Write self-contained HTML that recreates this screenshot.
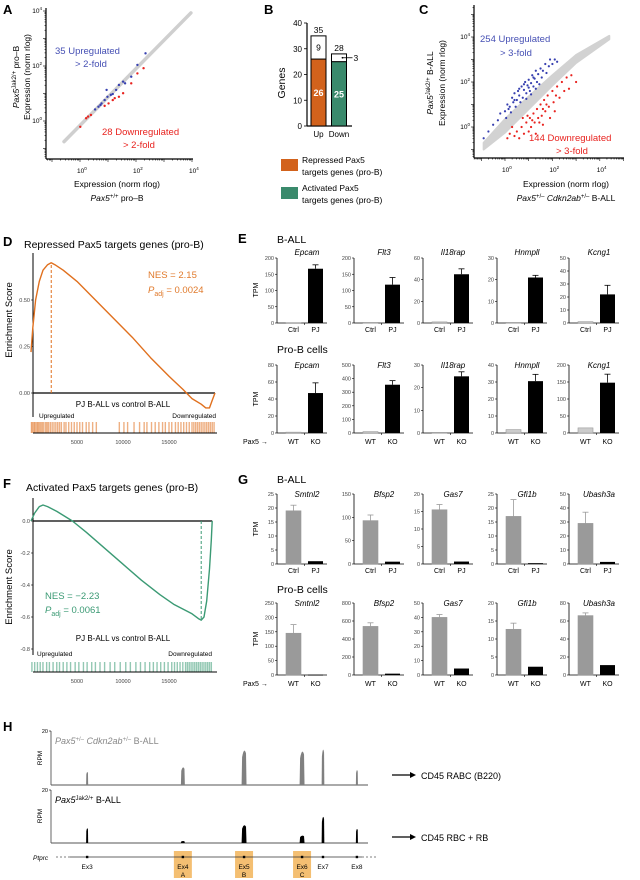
<!DOCTYPE html>
<html><head><meta charset="utf-8">
<style>
body{margin:0;background:#fff}
svg{display:block;font-family:"Liberation Sans",Arial,sans-serif}
.pl{font-weight:bold;font-size:13px}
.tk{font-size:5.5px;fill:#444}
</style></head>
<body>
<svg id="fig" width="640" height="880" viewBox="0 0 640 880" xmlns="http://www.w3.org/2000/svg">
<text class="pl" x="3" y="14">A</text>
<text class="pl" x="264" y="14">B</text>
<text class="pl" x="419" y="14">C</text>
<text class="pl" x="3" y="246">D</text>
<text class="pl" x="238" y="243">E</text>
<text class="pl" x="3" y="488">F</text>
<text class="pl" x="238" y="484">G</text>
<text class="pl" x="3" y="731">H</text>

<g font-size="8.5">
<text x="117" y="187" text-anchor="middle">Expression (norm rlog)</text>
<text x="117" y="201" text-anchor="middle"><tspan font-style="italic">Pax5</tspan><tspan dy="-3" font-size="6">+/+</tspan><tspan dy="3"> pro–B</tspan></text>
<text transform="translate(19,77) rotate(-90)" text-anchor="middle"><tspan font-style="italic">Pax5</tspan><tspan dy="-3" font-size="6">Jak2/+</tspan><tspan dy="3"> pro–B</tspan></text>
<text transform="translate(30,77) rotate(-90)" text-anchor="middle">Expression (norm rlog)</text>
<text x="55" y="54" fill="#4650b4" font-size="9.5">35 Upregulated</text>
<text x="75" y="67" fill="#4650b4" font-size="9.5">&gt; 2-fold</text>
<text x="102" y="135" fill="#e8231f" font-size="9.5">28 Downregulated</text>
<text x="123" y="148" fill="#e8231f" font-size="9.5">&gt; 2-fold</text>
</g>

<g font-size="8.5">
<text transform="translate(285,83) rotate(-90)" text-anchor="middle" font-size="10.5">Genes</text>
<rect x="281" y="159" width="17" height="12" fill="#d2621c"/>
<text x="302" y="163">Repressed Pax5</text>
<text x="302" y="175">targets genes (pro-B)</text>
<rect x="281" y="187" width="17" height="12" fill="#3a8a6c"/>
<text x="302" y="191">Activated Pax5</text>
<text x="302" y="203">targets genes (pro-B)</text>
</g>

<g font-size="8.5">
<text x="566" y="187" text-anchor="middle">Expression (norm rlog)</text>
<text x="566" y="201" text-anchor="middle"><tspan font-style="italic">Pax5</tspan><tspan dy="-3" font-size="6">+/–</tspan><tspan dy="3" font-style="italic"> Cdkn2ab</tspan><tspan dy="-3" font-size="6">+/–</tspan><tspan dy="3"> B-ALL</tspan></text>
<text transform="translate(433,83) rotate(-90)" text-anchor="middle"><tspan font-style="italic">Pax5</tspan><tspan dy="-3" font-size="6">Jak2/+</tspan><tspan dy="3">  B-ALL</tspan></text>
<text transform="translate(445,83) rotate(-90)" text-anchor="middle">Expression (norm rlog)</text>
<text x="480" y="42" fill="#4650b4" font-size="9.5">254 Upregulated</text>
<text x="500" y="56" fill="#4650b4" font-size="9.5">&gt; 3-fold</text>
<text x="529" y="141" fill="#e8231f" font-size="9.5">144 Downregulated</text>
<text x="556" y="154" fill="#e8231f" font-size="9.5">&gt; 3-fold</text>
</g>

<g>
<text x="24" y="248" font-size="10.5">Repressed Pax5 targets genes (pro-B)</text>
<text transform="translate(12,320) rotate(-90)" text-anchor="middle" font-size="9.5">Enrichment Score</text>
<text x="148" y="278" font-size="9.5" fill="#e07a2c">NES = 2.15</text>
<text x="148" y="293" font-size="9.5" fill="#e07a2c"><tspan font-style="italic">P</tspan><tspan dy="3" font-size="7">adj</tspan><tspan dy="-3"> = 0.0024</tspan></text>
<text x="123" y="407" text-anchor="middle" font-size="8">PJ  B-ALL  vs  control B-ALL</text>
<text x="39" y="418" font-size="6.5">Upregulated</text>
<text x="216" y="418" font-size="6.5" text-anchor="end">Downregulated</text>
</g>

<g>
<text x="26" y="491" font-size="10.5">Activated Pax5 targets genes (pro-B)</text>
<text transform="translate(12,587) rotate(-90)" text-anchor="middle" font-size="9.5">Enrichment Score</text>
<text x="45" y="599" font-size="9.5" fill="#3b9a74">NES = −2.23</text>
<text x="45" y="613" font-size="9.5" fill="#3b9a74"><tspan font-style="italic">P</tspan><tspan dy="3" font-size="7">adj</tspan><tspan dy="-3"> = 0.0061</tspan></text>
<text x="123" y="641" text-anchor="middle" font-size="8">PJ  B-ALL  vs  control B-ALL</text>
<text x="37" y="656" font-size="6.5">Upregulated</text>
<text x="212" y="656" font-size="6.5" text-anchor="end">Downregulated</text>
</g>

<g font-size="10.5">
<text x="277" y="243">B-ALL</text>
<text x="277" y="353">Pro-B cells</text>
<text x="277" y="483">B-ALL</text>
<text x="277" y="593">Pro-B cells</text>
</g>
<g font-size="7">
<text transform="translate(258,290) rotate(-90)" text-anchor="middle">TPM</text>
<text transform="translate(258,399) rotate(-90)" text-anchor="middle">TPM</text>
<text transform="translate(258,529) rotate(-90)" text-anchor="middle">TPM</text>
<text transform="translate(258,639) rotate(-90)" text-anchor="middle">TPM</text>
<text x="243" y="444">Pax5 →</text>
<text x="243" y="686">Pax5 →</text>
</g>

<g>
<text x="55" y="744" font-size="9" fill="#888"><tspan font-style="italic">Pax5</tspan><tspan dy="-3" font-size="6">+/–</tspan><tspan dy="3" font-style="italic"> Cdkn2ab</tspan><tspan dy="-3" font-size="6">+/–</tspan><tspan dy="3"> B-ALL</tspan></text>
<text x="55" y="803" font-size="9"><tspan font-style="italic">Pax5</tspan><tspan dy="-3" font-size="6">Jak2/+</tspan><tspan dy="3"> B-ALL</tspan></text>
<text transform="translate(42,758) rotate(-90)" text-anchor="middle" font-size="6.5">RPM</text>
<text transform="translate(42,816) rotate(-90)" text-anchor="middle" font-size="6.5">RPM</text>
<text x="48" y="733" font-size="5.5" text-anchor="end">20</text>
<text x="48" y="792" font-size="5.5" text-anchor="end">20</text>
<text x="33" y="860" font-size="6.5" font-style="italic">Ptprc</text>
<line x1="392" y1="775" x2="410" y2="775" stroke="#000" stroke-width="1.3"/>
<polygon points="410,772 416,775 410,778" fill="#000"/>
<text x="421" y="779" font-size="9">CD45 RABC (B220)</text>
<line x1="392" y1="837" x2="410" y2="837" stroke="#000" stroke-width="1.3"/>
<polygon points="410,834 416,837 410,840" fill="#000"/>
<text x="421" y="841" font-size="9">CD45 RBC + RB</text>
</g>
<g id="dyn"></g>
</svg>
<script>
const NS="http://www.w3.org/2000/svg";
const root=document.getElementById('dyn');
function mk(tag,parent,o){const e=document.createElementNS(NS,tag);for(const k in o)e.setAttribute(k,o[k]);parent.appendChild(e);return e;}

/* ---------- DATA: Panel A (log10 values) ---------- */
const aBlueX=[0.54,0.73,0.88,0.98,1.10,1.39,1.54,1.83,2.05,2.34,0.95,0.66,0.77,1.17,1.29,1.61];
const aBlueY=[0.42,0.58,0.76,0.88,0.95,1.31,1.43,1.61,2.04,2.46,1.13,0.52,0.64,0.98,1.13,1.37];
const aRedX=[0.01,0.22,0.29,0.39,0.88,1.02,1.24,1.39,1.54,1.83,2.05,2.27,1.17];
const aRedY=[-0.21,0.10,0.16,0.22,0.55,0.64,0.83,0.88,1.01,1.37,1.73,1.92,0.76];
const aGrayStart=[-0.57,-0.75], aGrayEnd=[3.96,3.93];
const aTickExp=[0,2,4];
/* ---------- DATA: Panel B ---------- */
const bCats=['Up','Down'];
const bTargets=[26,25];
const bOthers=[9,3];
const bTicks=[0,10,20,30,40];
/* ---------- DATA: Panel C ---------- */
const cBlue=[[-0.9,-0.5],[-0.7,-0.2],[-0.5,0.1],[-0.3,0.3],[-0.2,0.6],[0,0.7],[0.1,1.0],[0.2,0.9],[0.3,1.3],[0.35,1.1],[0.4,1.5],[0.5,1.2],[0.55,1.6],[0.6,1.4],[0.7,1.8],[0.75,1.3],[0.8,1.65],[0.85,2.0],[0.9,1.5],[0.95,1.85],[1.0,2.1],[1.05,1.6],[1.1,1.95],[1.15,2.3],[1.2,1.8],[1.25,2.15],[1.3,2.5],[1.35,2.0],[1.4,2.35],[1.5,2.6],[1.55,2.2],[1.6,2.5],[1.7,2.8],[1.75,2.4],[1.85,2.7],[1.9,3.0],[2.0,2.8],[2.1,3.0],[2.2,2.9],[0.45,0.9],[0.65,1.1],[0.9,1.25],[1.1,1.45],[1.3,1.7],[1.45,1.9],[0.25,0.65],[0.05,0.4],[0.6,1.7],[0.8,1.9],[1.0,1.75],[1.2,2.2],[0.4,1.2],[0.15,0.8]];
const cRed=[[0.1,-0.5],[0.2,-0.3],[0.4,-0.4],[0.5,-0.2],[0.6,-0.5],[0.7,0.0],[0.8,-0.3],[0.9,0.2],[1.0,-0.2],[1.05,0.4],[1.1,0.0],[1.2,0.6],[1.25,0.2],[1.3,-0.3],[1.35,0.8],[1.4,0.4],[1.5,1.0],[1.55,0.5],[1.6,0.1],[1.65,1.2],[1.7,0.7],[1.8,1.4],[1.85,0.9],[1.9,0.4],[2.0,1.6],[2.05,1.1],[2.1,0.7],[2.2,1.8],[2.3,1.3],[2.4,2.0],[2.5,1.6],[2.6,2.2],[2.7,1.7],[2.8,2.3],[3.0,2.0],[1.15,0.3],[0.95,0.5],[1.45,0.2],[1.75,1.0],[2.15,1.4],[0.3,0.0],[0.75,0.4],[1.6,0.8]];
const cGrayUpper=[[-0.9,-0.7],[0,0.35],[1,1.35],[2,2.3],[3,3.2],[4.4,4.05]];
const cGrayLower=[[4.4,3.9],[3,2.85],[2,1.85],[1,0.8],[0,-0.25],[-0.9,-1.0]];
const cTickExp=[0,2,4];
/* ---------- DATA: Panel D/F enrichment ---------- */
const dRank=[0,200,500,900,1300,1800,2200,2600,3500,5000,7000,9000,11000,13000,15000,16500,17500,18500,19000,19400,19700,20000];
const dES=[0.22,0.35,0.5,0.6,0.66,0.69,0.70,0.69,0.66,0.60,0.50,0.40,0.30,0.19,0.09,0.02,-0.03,-0.06,-0.08,-0.08,-0.04,0];
const dLeadRank=2200;
const dRug=[50,150,300,400,550,700,800,950,1100,1250,1400,1600,1750,1900,2100,2300,2500,2700,2900,3100,3300,3600,3800,4100,4400,4700,5000,5300,5600,6000,6300,6700,7100,9600,10100,10500,11200,11800,12300,12600,13100,13500,13900,14300,14600,15000,15300,15700,16000,16300,16600,16900,17200,17500,17700,17900,18100,18300,18500,18700,18900,19100,19300,19500,19700,19900];
const dTicks=[0,0.25,0.5];
const fRank=[0,400,900,1300,1800,2800,4500,6000,8000,10000,12000,14000,15500,16500,17500,18200,18500,18800,19100,19400,19600,19700];
const fES=[0,0.05,0.09,0.10,0.09,0.06,0.0,-0.07,-0.17,-0.27,-0.37,-0.46,-0.52,-0.55,-0.58,-0.61,-0.62,-0.60,-0.5,-0.3,-0.12,0];
const fLeadRank=18500;
const fRug=[100,400,700,1000,1300,1700,2000,2400,2800,3100,3500,3900,4300,4800,5200,5700,6100,6600,7000,7500,8000,8600,9100,9700,10300,10800,11400,11900,12400,12900,13300,13700,14100,14500,14900,15300,15600,15900,16200,16500,16800,17000,17200,17400,17600,17800,18000,18200,18400,18600,18800,19000,19200,19400,19600];
const fTicks=[0,-0.2,-0.4,-0.6,-0.8];
const rankTicks=[5000,10000,15000];
/* ---------- DATA: Panels E/G mini bar charts ---------- */
const eBallGenes=['Epcam','Flt3','Il18rap','Hnmpll','Kcng1'];
const eBallMax=[200,200,60,30,50], eBallStep=[50,50,20,10,10];
const eBallCtrl=[1,2,1,0.3,1], eBallCtrlErr=[0,0,0,0,0];
const eBallPJ=[167,118,45,21,22], eBallPJErr=[12,22,5,1,7];
const eProGenes=['Epcam','Flt3','Il18rap','Hnmpll','Kcng1'];
const eProMax=[80,500,30,40,200], eProStep=[20,100,10,10,50];
const eProWT=[1,10,0.3,2,15], eProWTErr=[0,0,0,0,0];
const eProKO=[47,355,25,30.5,148], eProKOErr=[12,30,2,4,25];
const gBallGenes=['Smtnl2','Bfsp2','Gas7','Gfi1b','Ubash3a'];
const gBallMax=[25,150,20,25,50], gBallStep=[5,50,5,5,10];
const gBallCtrl=[19,93,15.5,17,29], gBallCtrlErr=[2,12,1.5,6,8];
const gBallPJ=[1,5,0.7,0.3,1.5], gBallPJErr=[0,0,0,0,0];
const gProGenes=['Smtnl2','Bfsp2','Gas7','Gfi1b','Ubash3a'];
const gProMax=[250,800,50,20,80], gProStep=[50,200,10,5,20];
const gProWT=[145,540,40,12.7,66], gProWTErr=[30,40,2,1.7,3];
const gProKO=[1,15,4.5,2.3,11], gProKOErr=[0,0,0,0,0];
/* ---------- DATA: Panel H ---------- */
const hExonNames=['Ex3','Ex4','Ex5','Ex6','Ex7','Ex8'];
const hExonSub=['','A','B','C','',''];
const hExonPos=[114,416,609,792,858,965];
const hPeakW=[4,10,13,13,6,4];
const hTrack1=[5.2,7.0,13.7,13.3,14.1,5.9];
const hTrack2=[6.0,0.8,7.2,3.0,10.6,5.7];

function logAxes(g,x0,y0,x1,y1,xs,ys,expsX,expsY,minX,maxX,minY,maxY){
  mk('line',g,{x1:x0,y1:y0,x2:x0,y2:y1,stroke:'#000','stroke-width':1.2});
  mk('line',g,{x1:x0,y1:y0,x2:x1,y2:y0,stroke:'#000','stroke-width':1.2});
  for(let d=minX;d<=maxX;d++){for(let m=1;m<10;m++){const v=d+Math.log10(m);const px=xs(v);if(px<x0||px>x1)continue;mk('line',g,{x1:px,y1:y0,x2:px,y2:y0+(m==1?3:1.5),stroke:'#000','stroke-width':0.6});}}
  for(let d=minY;d<=maxY;d++){for(let m=1;m<10;m++){const v=d+Math.log10(m);const py=ys(v);if(py>y0||py<y1)continue;mk('line',g,{x1:x0,y1:py,x2:x0-(m==1?3:1.5),y2:py,stroke:'#000','stroke-width':0.6});}}
  expsX.forEach(e=>{const t=mk('text',g,{x:xs(e)-3,y:y0+14,'font-size':6.5});t.textContent='10';const s=mk('tspan',t,{dy:-3,'font-size':4.5});s.textContent=e;});
  expsY.forEach(e=>{const t=mk('text',g,{x:x0-4,y:ys(e)+2,'font-size':6.5,'text-anchor':'end'});t.textContent='10';const s=mk('tspan',t,{dy:-3,'font-size':4.5});s.textContent=e;});
}

(function(){
  const g=mk('g',root,{});
  
  
  const xs=v=>80+v*28, ys=v=>121-v*27.5;
  const gl=mk('line',g,{x1:xs(aGrayStart[0]),y1:ys(aGrayStart[1]),x2:xs(aGrayEnd[0]),y2:ys(aGrayEnd[1]),stroke:'#cfcfcf','stroke-width':3.5,'stroke-linecap':'round'});
  
  
  aBlueX.forEach((x,i)=>{const c=mk('circle',g,{cx:xs(x),cy:ys(aBlueY[i]),r:1.2,fill:'#3740b0'});
    
    });
  aRedX.forEach((x,i)=>{const c=mk('circle',g,{cx:xs(x),cy:ys(aRedY[i]),r:1.2,fill:'#e8231f'});
    
    });
  logAxes(g,46,159,193,8,xs,ys,aTickExp,aTickExp,-2,4,-2,4);
})();

(function(){
  const g=mk('g',root,{});
  
  
  const ys=v=>126-v*2.575;
  mk('line',g,{x1:307,y1:ys(0),x2:307,y2:ys(40),stroke:'#000','stroke-width':1.2});
  mk('line',g,{x1:307,y1:126,x2:352,y2:126,stroke:'#000','stroke-width':1.2});
  bTicks.forEach(v=>{mk('line',g,{x1:304,y1:ys(v),x2:307,y2:ys(v),stroke:'#000','stroke-width':0.8});
    const t=mk('text',g,{x:302,y:ys(v)+3,'font-size':8,'text-anchor':'end'});t.textContent=v;});
  const cols=['#d2621c','#3a8a6c'];
  bCats.forEach((c,i)=>{
    const x=311+i*20.5,w=15;
    const r1=mk('rect',g,{x:x,y:ys(bTargets[i]),width:w,height:ys(0)-ys(bTargets[i]),fill:cols[i],stroke:'#000','stroke-width':1});
    
    
    const tot=bTargets[i]+bOthers[i];
    const r2=mk('rect',g,{x:x,y:ys(tot),width:w,height:ys(bTargets[i])-ys(tot),fill:'#fff',stroke:'#000','stroke-width':1});
    
    
    const t1=mk('text',g,{x:x+w/2,y:ys(bTargets[i]/2)+3.5,'font-size':9,'font-weight':'bold',fill:'#fff','text-anchor':'middle'});t1.textContent=bTargets[i];
    const t3=mk('text',g,{x:x+w/2,y:ys(tot)-3,'font-size':8.5,'text-anchor':'middle'});t3.textContent=tot;
    if(bOthers[i]>5){const t2=mk('text',g,{x:x+w/2,y:ys(bTargets[i]+bOthers[i]/2)+3,'font-size':8.5,'text-anchor':'middle'});t2.textContent=bOthers[i];}
    else{const yy=ys(bTargets[i]+bOthers[i]/2);mk('line',g,{x1:x+w-4,y1:yy,x2:x+w+6,y2:yy,stroke:'#000','stroke-width':0.8});mk('circle',g,{cx:x+w-4,cy:yy,r:0.9});
      const t2=mk('text',g,{x:x+w+7,y:yy+3,'font-size':8.5});t2.textContent=bOthers[i];}
    const tl=mk('text',g,{x:x+w/2,y:137,'font-size':8,'text-anchor':'middle'});tl.textContent=c;
    
    
  });
})();

(function(){
  const g=mk('g',root,{});
  
  
  const xs=v=>505+v*23.7, ys=v=>127-v*22.5;
  const pts=cGrayUpper.concat(cGrayLower).map(p=>xs(p[0])+','+ys(p[1])).join(' ');
  const band=mk('polygon',g,{points:pts,fill:'#d2d2d2',stroke:'#d2d2d2','stroke-width':2,'stroke-linejoin':'round'});
  
  
  cBlue.forEach(p=>{const c=mk('circle',g,{cx:xs(p[0]),cy:ys(p[1]),r:1.1,fill:'#3740b0'});
    
    });
  cRed.forEach(p=>{const c=mk('circle',g,{cx:xs(p[0]),cy:ys(p[1]),r:1.1,fill:'#e8231f'});
    
    });
  logAxes(g,474,158,624,5,xs,ys,cTickExp,cTickExp,-2,5,-2,5);
})();

function gsea(name,ranks,es,lead,rug,ticks,color,yZero,yUnit,axTop,axBot,rugTop,rugBot,tickFmt){
  const g=mk('g',root,{});
  
  
  const xs=r=>31+r*0.0092, ys=v=>yZero-v*yUnit;
  mk('line',g,{x1:33,y1:axTop,x2:33,y2:axBot,stroke:'#000','stroke-width':1});
  mk('line',g,{x1:33,y1:yZero,x2:xs(ranks[ranks.length-1]),y2:yZero,stroke:'#000','stroke-width':1.3});
  ticks.forEach(v=>{mk('line',g,{x1:31,y1:ys(v),x2:33,y2:ys(v),stroke:'#000','stroke-width':0.6});
    const t=mk('text',g,{x:30,y:ys(v)+2,'class':'tk','text-anchor':'end'});t.textContent=tickFmt(v);});
  const li=ranks.indexOf(lead);
  const dl=mk('line',g,{x1:xs(lead),y1:yZero,x2:xs(lead),y2:ys(es[li]),stroke:color,'stroke-width':1,'stroke-dasharray':'3,2'});
  
  
  const d=ranks.map((r,i)=>(i?'L':'M')+xs(r).toFixed(1)+','+ys(es[i]).toFixed(1)).join(' ');
  const p=mk('path',g,{d:d,fill:'none',stroke:color,'stroke-width':1.4,'stroke-linejoin':'round'});
  
  
  const rg=mk('g',g,{});
  
  
  rug.forEach((r,i)=>{mk('line',rg,{x1:xs(r),y1:rugTop,x2:xs(r),y2:rugBot,stroke:color,'stroke-width':1.4,'stroke-opacity':0.55});});
  mk('line',g,{x1:33,y1:rugBot,x2:217,y2:rugBot,stroke:'#000','stroke-width':1});
  rankTicks.forEach(r=>{const t=mk('text',g,{x:xs(r),y:rugBot+11,'class':'tk','text-anchor':'middle'});t.textContent=r;});
}
gsea('panel-d-enrichment',dRank,dES,dLeadRank,dRug,dTicks,'#e0701e',393,186,253,417,422,433,v=>v.toFixed(2));
gsea('panel-f-enrichment',fRank,fES,fLeadRank,fRug,fTicks,'#3b9a74',521,160,498,655,662,672,v=>v.toFixed(1));

const axXs=[277,354,423,497,569];
function miniRow(name,genes,max,step,v1,e1,v2,e2,labels,c1,top,zero,titleY,labY){
  genes.forEach((gname,i)=>{
    const g=mk('g',root,{});
    
    
    const ax=axXs[i]; const ys=v=>zero-(v/max[i])*(zero-top);
    mk('line',g,{x1:ax,y1:zero,x2:ax,y2:top,stroke:'#000','stroke-width':0.8});
    mk('line',g,{x1:ax,y1:zero,x2:ax+50,y2:zero,stroke:'#000','stroke-width':0.8});
    mk('line',g,{x1:ax+27.5,y1:zero,x2:ax+27.5,y2:zero+2,stroke:'#000','stroke-width':0.6});
    for(let v=0;v<=max[i]+1e-9;v+=step[i]){mk('line',g,{x1:ax-2,y1:ys(v),x2:ax,y2:ys(v),stroke:'#000','stroke-width':0.6});
      const t=mk('text',g,{x:ax-3,y:ys(v)+2,'class':'tk','text-anchor':'end'});t.textContent=v;}
    const tt=mk('text',g,{x:ax+30,y:titleY,'font-size':8,'font-style':'italic','text-anchor':'middle'});tt.textContent=gname;
    const b1=mk('rect',g,{x:ax+9,y:ys(v1[i]),width:15,height:Math.max(0.8,zero-ys(v1[i])),fill:c1,stroke:c1=='#9a9a9a'?'#9a9a9a':'#999','stroke-width':0.6});
    
    
    const b2=mk('rect',g,{x:ax+31,y:ys(v2[i]),width:15,height:Math.max(0.8,zero-ys(v2[i])),fill:'#000'});
    
    
    [[v1,e1,ax+16.5,c1],[v2,e2,ax+38.5,'#000']].forEach(([v,e,cx,col])=>{ if(e[i]>0){const yt=ys(v[i]+e[i]);
      mk('line',g,{x1:cx,y1:ys(v[i]),x2:cx,y2:yt,stroke:col,'stroke-width':0.8});
      mk('line',g,{x1:cx-3,y1:yt,x2:cx+3,y2:yt,stroke:col,'stroke-width':0.8});}});
    labels.forEach((l,k)=>{const t=mk('text',g,{x:ax+16.5+k*22,y:labY,'font-size':7,'text-anchor':'middle'});t.textContent=l;});
  });
}
miniRow('e-ball',eBallGenes,eBallMax,eBallStep,eBallCtrl,eBallCtrlErr,eBallPJ,eBallPJErr,['Ctrl','PJ'],'#cccccc',258,323,255,332);
miniRow('e-prob',eProGenes,eProMax,eProStep,eProWT,eProWTErr,eProKO,eProKOErr,['WT','KO'],'#cccccc',365,433,368,444);
miniRow('g-ball',gBallGenes,gBallMax,gBallStep,gBallCtrl,gBallCtrlErr,gBallPJ,gBallPJErr,['Ctrl','PJ'],'#9a9a9a',494,564,497,573);
miniRow('g-prob',gProGenes,gProMax,gProStep,gProWT,gProWTErr,gProKO,gProKOErr,['WT','KO'],'#9a9a9a',603,675,606,686);

(function(){
  const g=mk('g',root,{});
  
  
  const xs=t=>51+t*0.317;
  [1,2,3].forEach(i=>{const b=mk('rect',g,{x:xs(hExonPos[i])-9,y:851,width:18,height:27,fill:'#f4bf72'});
    
    });
  function track(vals,top,base,col,nm){
    const s=(base-top)/20;
    mk('line',g,{x1:51,y1:top,x2:51,y2:base,stroke:'#000','stroke-width':0.6});
    mk('line',g,{x1:49,y1:top,x2:51,y2:top,stroke:'#000','stroke-width':0.6});
    mk('line',g,{x1:51,y1:base,x2:368,y2:base,stroke:'#555','stroke-width':1});
    vals.forEach((v,i)=>{const cx=xs(hExonPos[i]),w=hPeakW[i]*0.317/2+0.4;
      const p=mk('path',g,{d:`M${cx-w},${base} L${cx-w*0.8},${base-v*s*0.75} Q${cx},${base-v*s*1.05} ${cx+w*0.8},${base-v*s*0.85} L${cx+w},${base} Z`,fill:col});
      
      });
  }
  track(hTrack1,731,785,'#808080','h-track1');
  track(hTrack2,790,843,'#000','h-track2');
  mk('line',g,{x1:56,y1:857,x2:70,y2:857,stroke:'#555','stroke-width':0.8,'stroke-dasharray':'2,2'});
  mk('line',g,{x1:70,y1:857,x2:362,y2:857,stroke:'#333','stroke-width':0.8});
  mk('line',g,{x1:362,y1:857,x2:376,y2:857,stroke:'#555','stroke-width':0.8,'stroke-dasharray':'2,2'});
  hExonPos.forEach((t,i)=>{const x=xs(t);
    mk('rect',g,{x:x-1.2,y:855.8,width:2.4,height:2.4,fill:'#000'});
    const l=mk('text',g,{x:x,y:869,'font-size':6.5,'text-anchor':'middle'});l.textContent=hExonNames[i];
    
    
    if(hExonSub[i]){const s=mk('text',g,{x:x,y:877,'font-size':6.5,'text-anchor':'middle'});s.textContent=hExonSub[i];}
  });
})();
</script>
</body></html>
